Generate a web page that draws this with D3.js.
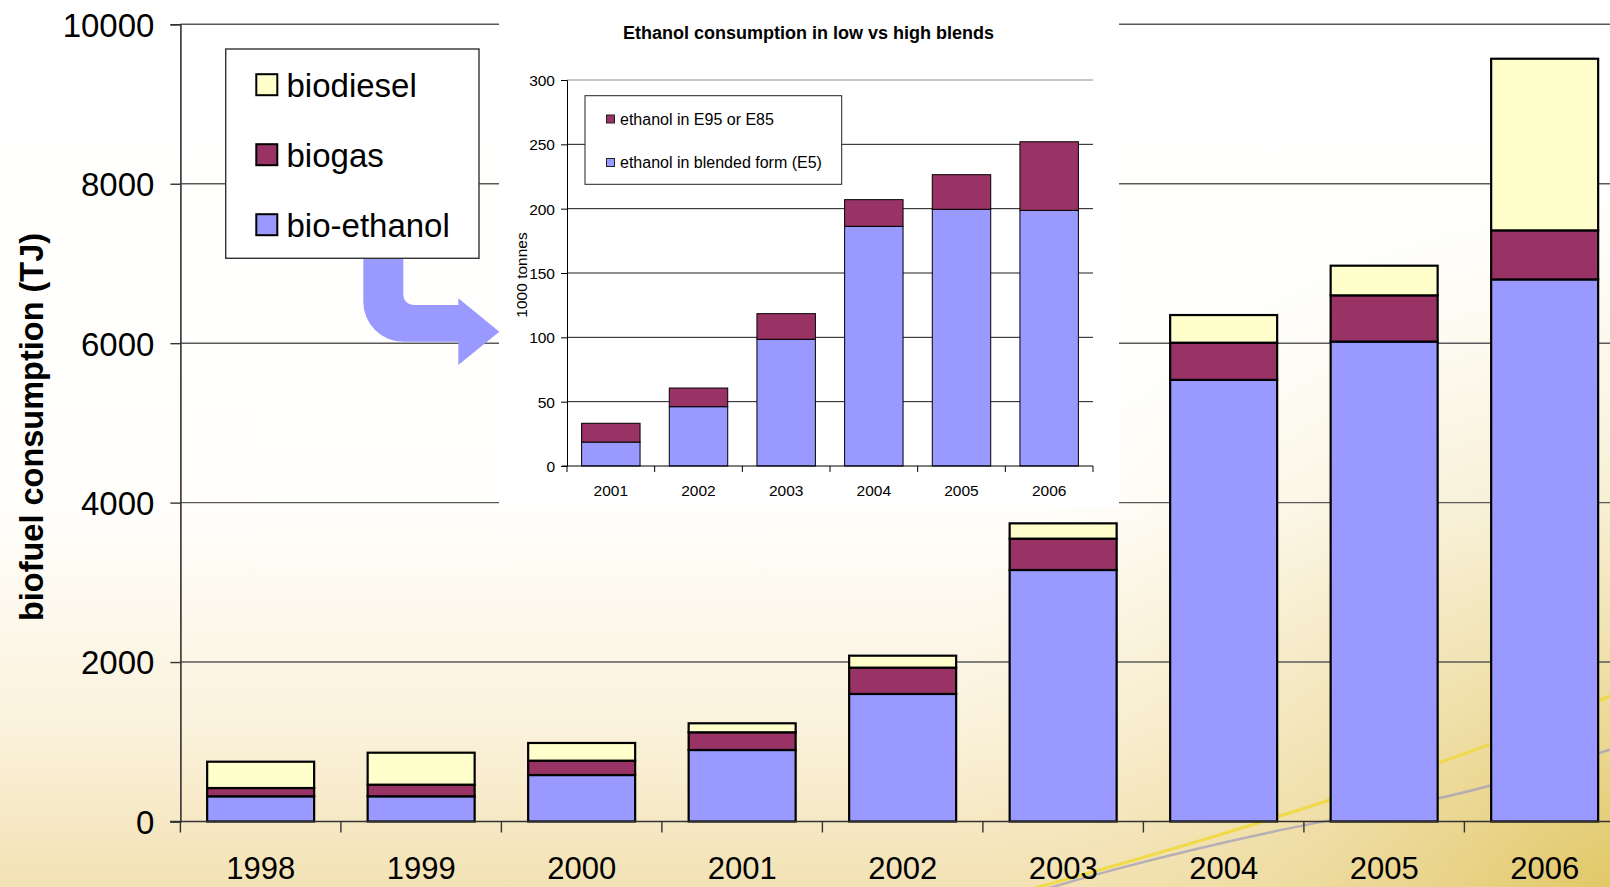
<!DOCTYPE html>
<html>
<head>
<meta charset="utf-8">
<script src="https://cdnjs.cloudflare.com/ajax/libs/d3/7.8.5/d3.min.js"></script>
<style>
  html, body { margin: 0; padding: 0; background: #ffffff; overflow: hidden; }
  svg { display: block; font-family: "Liberation Sans", Arial, sans-serif; }
</style>
</head>
<body>
<svg id="chart" width="1610" height="887"></svg>
<script>
// Biofuel consumption (TJ), stacked by fuel
const years = ["1998", "1999", "2000", "2001", "2002", "2003", "2004", "2005", "2006"];
const bioEthanol = [316, 316, 583, 897, 1600, 3155, 5540, 6020, 6800];
const biogas = [104, 146, 180, 222, 330, 393, 466, 580, 615];
const biodiesel = [330, 401, 222, 113, 150, 192, 347, 372, 2153];
const mainTicks = [0, 2000, 4000, 6000, 8000, 10000];
const mainSeries = ["bio-ethanol", "biogas", "biodiesel"];

// Ethanol consumption (1000 tonnes) by blend type
const insetYears = ["2001", "2002", "2003", "2004", "2005", "2006"];
const ethanolE5 = [18.6, 46.1, 98.5, 186.3, 199.5, 198.7];
const ethanolE85 = [14.6, 14.5, 19.9, 20.7, 26.9, 53.3];
const insetTicks = [0, 50, 100, 150, 200, 250, 300];
const insetSeries = ["ethanol in blended form (E5)", "ethanol in E95 or E85"];

const colors = {
  "bio-ethanol": "#9999ff",
  "biogas": "#993366",
  "biodiesel": "#ffffcc",
  "ethanol in blended form (E5)": "#9999ff",
  "ethanol in E95 or E85": "#993366"
};

const svg = d3.select("#chart");
const W = 1610, H = 887;
const defs = svg.append("defs");

// ---- slide background ----
const bgV = defs.append("linearGradient").attr("id", "bgV")
  .attr("x1", 0).attr("y1", 0).attr("x2", 0).attr("y2", 1);
[[0, "#ffffff"], [0.58, "#fffefb"], [0.82, "#fbf2dc"], [1, "#f3e2b4"]]
  .forEach(([o, c]) => bgV.append("stop").attr("offset", o).attr("stop-color", c));
const bgR = defs.append("radialGradient").attr("id", "bgR")
  .attr("gradientUnits", "userSpaceOnUse")
  .attr("cx", 1640).attr("cy", 930).attr("r", 740);
[[0, "#dcc050", 0.9], [0.45, "#e8d388", 0.5], [1, "#f4e6bb", 0]]
  .forEach(([o, c, a]) => bgR.append("stop").attr("offset", o).attr("stop-color", c).attr("stop-opacity", a));

svg.append("rect").attr("width", W).attr("height", H).attr("fill", "url(#bgV)");
svg.append("rect").attr("width", W).attr("height", H).attr("fill", "url(#bgR)");

// decorative swooshes in the lower right
const swoosh = d3.line().curve(d3.curveBasis);
svg.append("path")
  .attr("d", swoosh([[1010, 895], [1097, 871], [1272, 820], [1440, 763], [1530, 730], [1615, 694]]))
  .attr("fill", "none").attr("stroke", "#f0d838").attr("stroke-width", 3).attr("opacity", 0.85);
svg.append("path")
  .attr("d", swoosh([[1020, 897], [1097, 873], [1272, 830], [1440, 800], [1530, 775], [1615, 748]]))
  .attr("fill", "none").attr("stroke", "#a8a2b8").attr("stroke-width", 2.5).attr("opacity", 0.8);

// ---- main chart ----
const x = d3.scaleBand().domain(years)
  .range([180.4, 180.4 + 160.5 * years.length])
  .paddingInner(1 / 3).paddingOuter(1 / 6);
const y = d3.scaleLinear().domain([0, 10000]).range([821.5, 24.3]);
const plotRight = x.range()[1];

const main = svg.append("g");

// horizontal grid
main.append("g")
  .selectAll("line").data(mainTicks.filter(v => v > 0)).join("line")
  .attr("x1", 180.4).attr("x2", plotRight)
  .attr("y1", d => y(d)).attr("y2", d => y(d))
  .attr("stroke", "#5a5a5a").attr("stroke-width", 1.4);

// stacked bars
const mainRows = years.map((yr, i) => ({
  year: yr,
  "bio-ethanol": bioEthanol[i],
  "biogas": biogas[i],
  "biodiesel": biodiesel[i]
}));
const mainStack = d3.stack().keys(mainSeries)(mainRows);
main.append("g").selectAll("g").data(mainStack).join("g")
  .attr("fill", d => colors[d.key])
  .selectAll("rect").data(d => d).join("rect")
  .attr("x", d => x(d.data.year))
  .attr("width", x.bandwidth())
  .attr("y", d => y(d[1]))
  .attr("height", d => y(d[0]) - y(d[1]))
  .attr("stroke", "#000").attr("stroke-width", 2.2);

// y axis
const yAxis = main.append("g").attr("transform", "translate(180.4,0)")
  .call(d3.axisLeft(y).tickValues(mainTicks).tickSize(10).tickPadding(16).tickFormat(d3.format("d")));
yAxis.select(".domain").attr("stroke", "#333").attr("stroke-width", 1.6);
yAxis.selectAll(".tick line").attr("stroke", "#333").attr("stroke-width", 1.4);
yAxis.selectAll(".tick text").attr("font-size", 33).attr("fill", "#000")
  .attr("font-family", "'Liberation Sans', Arial, sans-serif").attr("dy", "0.36em");

// x axis: baseline, boundary ticks, labels
const xAxis = main.append("g");
xAxis.append("line").attr("x1", 170).attr("x2", plotRight)
  .attr("y1", y(0)).attr("y2", y(0)).attr("stroke", "#333").attr("stroke-width", 1.6);
const gap = (x.step() - x.bandwidth()) / 2;
xAxis.selectAll("line.xt").data(years).join("line").attr("class", "xt")
  .attr("x1", d => x(d) - gap).attr("x2", d => x(d) - gap)
  .attr("y1", y(0)).attr("y2", y(0) + 11)
  .attr("stroke", "#333").attr("stroke-width", 1.4);
xAxis.selectAll("text").data(years).join("text")
  .attr("x", d => x(d) + x.bandwidth() / 2).attr("y", 879)
  .attr("text-anchor", "middle").attr("font-size", 31).attr("fill", "#000")
  .text(d => d);

// y axis title
svg.append("text")
  .attr("transform", "translate(43,427) rotate(-90)")
  .attr("text-anchor", "middle").attr("font-size", 32.5).attr("font-weight", "bold")
  .attr("fill", "#000")
  .text("biofuel consumption (TJ)");

// bent arrow from the legend towards the inset
svg.append("path")
  .attr("d", "M363.3,250 L363.3,301.7 A40,40 0 0 0 403.3,341.7 L458.3,341.7 L458.3,365 L499.3,331.7 L458.3,298.3 L458.3,305 L413.3,305 A10,10 0 0 1 403.3,295 L403.3,250 Z")
  .attr("fill", "#9999ff");

// main legend
const legendMain = svg.append("g");
legendMain.append("rect").attr("x", 225.7).attr("y", 49).attr("width", 253.3).attr("height", 209.3)
  .attr("fill", "#fff").attr("stroke", "#333").attr("stroke-width", 1.4);
const legendOrder = mainSeries.slice().reverse();
const lg = legendMain.selectAll("g").data(legendOrder).join("g")
  .attr("transform", (d, i) => `translate(0,${84.7 + i * 70})`);
lg.append("rect").attr("x", 256.3).attr("y", -10.5).attr("width", 21).attr("height", 21)
  .attr("fill", d => colors[d]).attr("stroke", "#000").attr("stroke-width", 2);
lg.append("text").attr("x", 286.5).attr("y", 0).attr("dy", "0.36em")
  .attr("font-size", 33).attr("fill", "#000").text(d => d);

// ---- inset chart ----
const inset = svg.append("g");
inset.append("rect").attr("x", 499).attr("y", 0).attr("width", 620).attr("height", 508).attr("fill", "#fff");

const ix = d3.scaleBand().domain(insetYears).range([567, 1093])
  .paddingInner(1 / 3).paddingOuter(1 / 6);
const iy = d3.scaleLinear().domain([0, 300]).range([466, 80]);

inset.append("text").attr("x", 808.5).attr("y", 39).attr("text-anchor", "middle")
  .attr("font-size", 18).attr("font-weight", "bold").attr("fill", "#000")
  .text("Ethanol consumption in low vs high blends");

inset.append("g").selectAll("line").data(insetTicks.filter(v => v > 0)).join("line")
  .attr("x1", 567).attr("x2", 1093)
  .attr("y1", d => iy(d)).attr("y2", d => iy(d))
  .attr("stroke", d => d === 300 ? "#888" : "#1a1a1a").attr("stroke-width", 1);

const insetRows = insetYears.map((yr, i) => ({
  year: yr,
  "ethanol in blended form (E5)": ethanolE5[i],
  "ethanol in E95 or E85": ethanolE85[i]
}));
const insetStack = d3.stack().keys(insetSeries)(insetRows);
inset.append("g").selectAll("g").data(insetStack).join("g")
  .attr("fill", d => colors[d.key])
  .selectAll("rect").data(d => d).join("rect")
  .attr("x", d => ix(d.data.year))
  .attr("width", ix.bandwidth())
  .attr("y", d => iy(d[1]))
  .attr("height", d => iy(d[0]) - iy(d[1]))
  .attr("stroke", "#000").attr("stroke-width", 1);

const iyAxis = inset.append("g").attr("transform", "translate(567,0)")
  .call(d3.axisLeft(iy).tickValues(insetTicks).tickSize(6).tickPadding(6));
iyAxis.select(".domain").attr("stroke", "#000").attr("stroke-width", 1);
iyAxis.selectAll(".tick line").attr("stroke", "#000");
iyAxis.selectAll(".tick text").attr("font-size", 15.5).attr("fill", "#000")
  .attr("font-family", "'Liberation Sans', Arial, sans-serif").attr("dy", "0.36em");

const ixAxis = inset.append("g");
ixAxis.append("line").attr("x1", 562).attr("x2", 1093).attr("y1", iy(0)).attr("y2", iy(0))
  .attr("stroke", "#000").attr("stroke-width", 1);
ixAxis.selectAll("line.xt").data(insetYears.concat(["end"])).join("line").attr("class", "xt")
  .attr("x1", (d, i) => 567 + i * ix.step()).attr("x2", (d, i) => 567 + i * ix.step())
  .attr("y1", iy(0)).attr("y2", iy(0) + 6)
  .attr("stroke", "#000").attr("stroke-width", 1);
ixAxis.selectAll("text").data(insetYears).join("text")
  .attr("x", d => ix(d) + ix.bandwidth() / 2).attr("y", 490).attr("dy", "0.36em")
  .attr("text-anchor", "middle").attr("font-size", 15.5).attr("fill", "#000")
  .text(d => d);

inset.append("text")
  .attr("transform", "translate(527,275) rotate(-90)")
  .attr("text-anchor", "middle").attr("font-size", 15.5).attr("fill", "#000")
  .text("1000 tonnes");

// inset legend
const legendInset = inset.append("g");
legendInset.append("rect").attr("x", 585).attr("y", 95.7).attr("width", 256.7).attr("height", 88.6)
  .attr("fill", "#fff").attr("stroke", "#222").attr("stroke-width", 1);
const ilg = legendInset.selectAll("g").data(insetSeries.slice().reverse()).join("g")
  .attr("transform", (d, i) => `translate(0,${119 + i * 43.5})`);
ilg.append("rect").attr("x", 606.5).attr("y", -4).attr("width", 8).attr("height", 8)
  .attr("fill", d => colors[d]).attr("stroke", "#222").attr("stroke-width", 1);
ilg.append("text").attr("x", 620).attr("y", 0).attr("dy", "0.36em")
  .attr("font-size", 16).attr("fill", "#000").text(d => d);
</script>
</body>
</html>
